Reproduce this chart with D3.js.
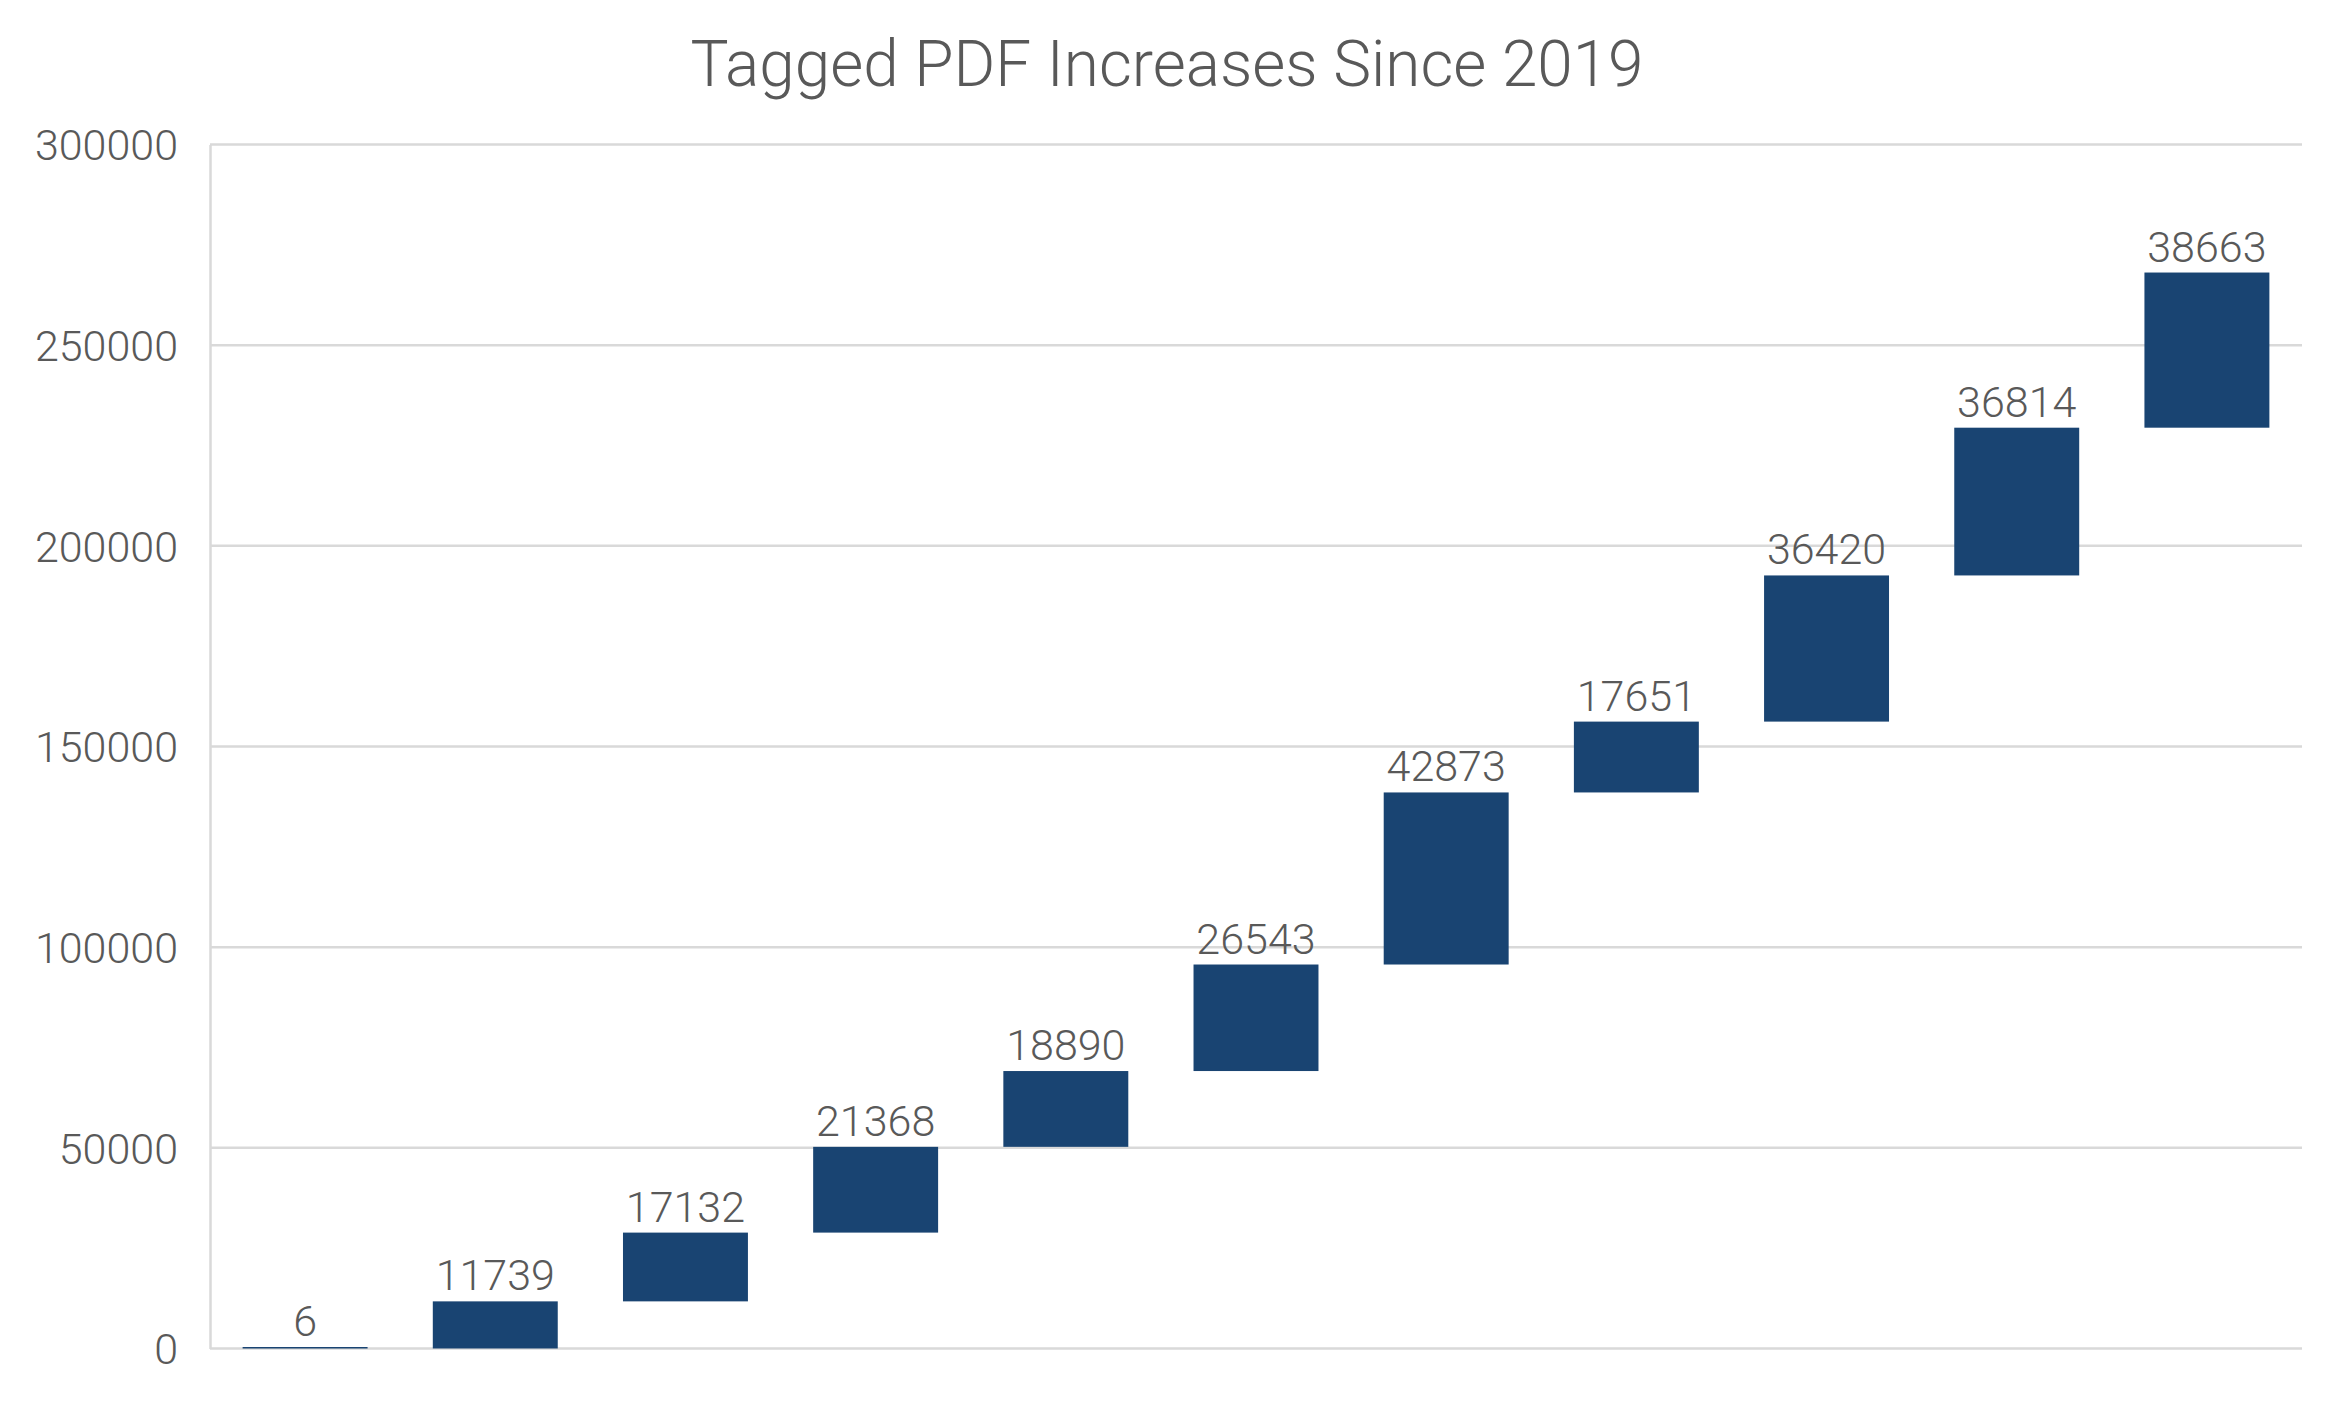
<!DOCTYPE html>
<html>
<head>
<meta charset="utf-8">
<script src="https://cdn.jsdelivr.net/npm/d3@7"></script>
<style>
  html, body { margin: 0; padding: 0; background: #ffffff; }
  svg { display: block; }
</style>
</head>
<body>
<svg id="chart" width="2334" height="1401"></svg>
<script>
const title = "Tagged PDF Increases Since 2019";
const categories = ["1","2","3","4","5","6","7","8","9","10","11"];
const increases = [6, 11739, 17132, 21368, 18890, 26543, 42873, 17651, 36420, 36814, 38663];
const yTicks = [0, 50000, 100000, 150000, 200000, 250000, 300000];

const W = 2334, H = 1401;
const margin = { left: 210, right: 32, top: 144.5, bottom: 52.5 };
const svg = d3.select("#chart");
const textColor = "#595959";
const gridColor = "#d9d9d9";
const barColor = "#194472";
const fontFam = "Roboto, 'Liberation Sans', sans-serif";

// waterfall: start/end from cumulative
let run = 0;
const bars = increases.map((v, i) => {
  const start = run; run += v;
  return { cat: categories[i], value: v, start, end: run };
});

const x = d3.scaleBand()
  .domain(categories)
  .range([margin.left, W - margin.right])
  .paddingInner(0.343)
  .paddingOuter(0.1715);

const y = d3.scaleLinear()
  .domain([0, 300000])
  .range([H - margin.bottom, margin.top]);

// gridlines
svg.append("g").selectAll("line")
  .data(yTicks.filter(t => t > 0))
  .join("line")
  .attr("x1", margin.left).attr("x2", W - margin.right)
  .attr("y1", d => y(d)).attr("y2", d => y(d))
  .attr("stroke", gridColor).attr("stroke-width", 2.5);

// y axis
const yAxis = d3.axisLeft(y).tickValues(yTicks).tickSize(0).tickPadding(32).tickFormat(d3.format("d"));
const gy = svg.append("g").attr("transform", `translate(${margin.left},0)`).call(yAxis);
gy.select(".domain").attr("stroke", gridColor).attr("stroke-width", 2.5);
gy.selectAll("text")
  .attr("fill", textColor)
  .attr("font-family", fontFam)
  .attr("font-weight", 300)
  .attr("font-size", 43)
  .attr("dy", "0.36em");

// x baseline
const xAxis = d3.axisBottom(x).tickSize(0).tickFormat("");
const gx = svg.append("g").attr("transform", `translate(0,${y(0)})`).call(xAxis);
gx.select(".domain").attr("stroke", gridColor).attr("stroke-width", 2.5)
  .attr("d", `M${margin.left},0H${W - margin.right}`);

// bars
svg.append("g").selectAll("rect")
  .data(bars)
  .join("rect")
  .attr("x", d => x(d.cat))
  .attr("width", x.bandwidth())
  .attr("y", d => Math.min(y(d.end), y(d.start) - 1.5))
  .attr("height", d => Math.max(y(d.start) - y(d.end), 1.5))
  .attr("fill", barColor);

// labels
svg.append("g").selectAll("text")
  .data(bars)
  .join("text")
  .attr("x", d => x(d.cat) + x.bandwidth() / 2)
  .attr("y", d => Math.min(y(d.end), y(d.start) - 1.5) - 11)
  .attr("text-anchor", "middle")
  .attr("fill", textColor)
  .attr("font-family", fontFam)
  .attr("font-weight", 300)
  .attr("font-size", 43)
  .text(d => d.value);

// title
svg.append("text")
  .attr("x", W / 2)
  .attr("y", 86)
  .attr("text-anchor", "middle")
  .attr("fill", textColor)
  .attr("font-family", fontFam)
  .attr("font-weight", 300)
  .attr("font-size", 64)
  .attr("textLength", 953)
  .attr("lengthAdjust", "spacingAndGlyphs")
  .text(title);
</script>
</body>
</html>
